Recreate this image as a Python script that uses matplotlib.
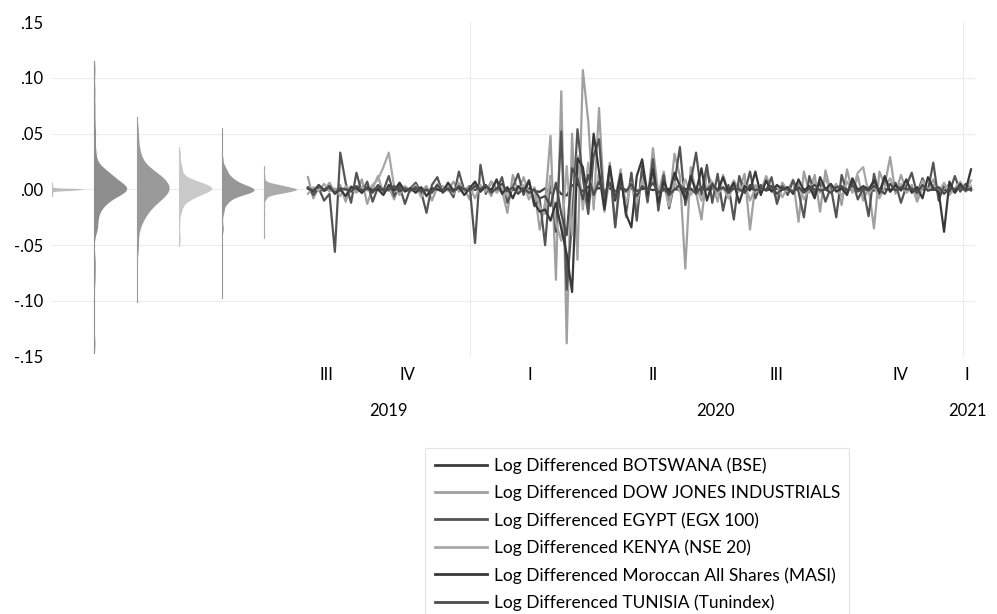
import numpy as np
import pandas as pd
import matplotlib
matplotlib.use('Agg')
import matplotlib.pyplot as plt
import matplotlib.transforms as mtransforms
from matplotlib.lines import Line2D

plt.rcParams['font.family'] = ['Lato', 'DejaVu Sans']

dates = pd.date_range('2019-09-03', periods=124, freq='4D')

botswana = [
    0.0010, -0.0005, 0.0003, -0.0012, 0.0006, 0.0002, -0.0008, 0.0004, -0.0003, 0.0009,
    -0.0006, 0.0002, 0.0011, -0.0004, 0.0001, -0.0009, 0.0005, 0.0003, -0.0007, 0.0008,
    -0.0002, 0.0006, -0.0011, 0.0004, 0.0002, -0.0005, 0.0009, -0.0003, 0.0001, -0.0006,
    0.0007, -0.0004, 0.0012, -0.0008, 0.0003, 0.0005, -0.0010, 0.0002, -0.0004, 0.0006,
    -0.0003, 0.0008, -0.0015, -0.0022, 0.0010, -0.0031, 0.0018, -0.0042, -0.0055, 0.0036,
    0.0048, -0.0020, 0.0025, -0.0012, 0.0014, -0.0009, 0.0011, -0.0016, 0.0007, -0.0005,
    0.0009, -0.0013, 0.0004, 0.0008, -0.0006, 0.0003, -0.0010, 0.0005, 0.0002, -0.0004,
    0.0007, -0.0008, 0.0003, 0.0001, -0.0005, 0.0009, -0.0002, 0.0004, -0.0007, 0.0006,
    -0.0003, 0.0002, 0.0010, -0.0006, 0.0004, -0.0009, 0.0003, 0.0005, -0.0002, 0.0008,
    -0.0011, 0.0004, -0.0003, 0.0006, 0.0002, -0.0007, 0.0009, -0.0004, 0.0001, 0.0005,
    -0.0008, 0.0003, 0.0006, -0.0002, 0.0004, -0.0010, 0.0007, 0.0002, -0.0005, 0.0003,
    0.0008, -0.0004, 0.0001, -0.0006, 0.0005, 0.0009, -0.0003, 0.0002, -0.0008, 0.0004,
    -0.0002, 0.0006, -0.0004, 0.0003]

dow = [
    0.011, -0.008, 0.002, -0.001, 0.006, -0.003, 0.004, -0.011, 0.003, -0.002,
    0.009, -0.013, 0.001, 0.012, -0.004, 0.002, -0.009, 0.005, 0.000, -0.002,
    0.004, -0.001, 0.003, -0.010, 0.002, 0.003, -0.001, 0.007, -0.002, 0.001,
    -0.009, 0.005, -0.002, 0.003, -0.006, 0.008, -0.001, -0.021, 0.013, -0.002,
    0.011, -0.004, 0.001, -0.036, -0.012, 0.048, -0.081, 0.088, -0.138, 0.050,
    -0.063, 0.107, 0.061, -0.018, 0.073, -0.016, 0.024, -0.033, 0.018, -0.025,
    0.014, -0.021, 0.019, -0.012, 0.037, -0.004, 0.016, -0.014, 0.032, 0.012,
    -0.071, 0.020, -0.003, -0.027, 0.015, 0.005, -0.011, 0.013, -0.002, 0.008,
    -0.001, 0.014, -0.036, 0.004, -0.002, 0.012, 0.001, -0.009, 0.006, -0.001,
    0.009, -0.029, 0.016, -0.003, 0.013, -0.020, 0.017, -0.002, 0.005, -0.014,
    0.018, -0.003, 0.012, -0.010, 0.002, -0.035, 0.016, 0.004, 0.029, -0.004,
    0.013, -0.001, 0.004, -0.011, 0.002, 0.000, 0.009, -0.006, 0.001, 0.005,
    -0.003, 0.002, -0.001, 0.008]

egypt = [
    0.002, -0.005, 0.001, -0.010, -0.004, -0.056, 0.033, 0.006, -0.012, 0.015,
    -0.003, 0.007, -0.011, 0.002, -0.001, 0.012, -0.006, 0.003, -0.013, 0.001,
    0.006, -0.002, -0.021, 0.004, 0.011, -0.003, 0.001, -0.007, 0.016, -0.001,
    0.003, -0.048, 0.022, -0.004, 0.007, -0.001, 0.011, -0.012, 0.002, 0.014,
    -0.005, 0.008, -0.015, -0.009, -0.050, 0.012, -0.038, 0.052, -0.090, -0.028,
    0.054, 0.010, -0.022, 0.030, 0.045, -0.016, 0.019, -0.034, 0.012, -0.020,
    0.015, -0.028, 0.021, -0.011, 0.027, -0.019, 0.013, -0.017, 0.006, 0.038,
    -0.014, 0.007, 0.033, -0.005, 0.022, -0.012, 0.014, -0.019, 0.004, -0.027,
    0.012, -0.003, 0.016, -0.008, 0.004, -0.001, 0.011, -0.013, 0.003, -0.005,
    0.008, -0.002, -0.025, 0.012, -0.004, 0.006, -0.011, 0.002, -0.025, 0.013,
    -0.003, 0.008, -0.009, 0.001, -0.024, 0.014, -0.005, 0.011, -0.002, 0.006,
    -0.012, 0.003, 0.015, -0.004, 0.010, -0.001, 0.024, -0.010, 0.004, -0.003,
    0.012, -0.002, 0.005, -0.001]

kenya = [
    -0.004, 0.002, -0.001, 0.005, -0.002, 0.001, -0.006, 0.003, 0.000, -0.003,
    0.002, -0.001, 0.004, 0.009, 0.020, 0.033, 0.002, -0.005, 0.003, -0.001,
    0.004, -0.007, 0.001, -0.002, 0.005, -0.001, 0.003, -0.004, 0.006, -0.001,
    0.002, -0.008, 0.004, -0.002, 0.007, -0.003, 0.001, -0.006, 0.002, 0.000,
    0.004, -0.009, 0.002, -0.016, -0.022, 0.012, -0.030, -0.046, 0.021, -0.041,
    0.030, -0.018, 0.024, -0.012, 0.015, -0.020, 0.011, -0.009, 0.017, -0.014,
    0.006, -0.012, 0.008, -0.003, 0.011, -0.008, 0.004, -0.015, 0.007, -0.002,
    0.009, -0.005, 0.003, -0.010, 0.002, 0.007, -0.004, 0.002, -0.008, 0.004,
    -0.002, 0.006, -0.010, 0.001, -0.003, 0.008, -0.001, 0.003, -0.007, 0.002,
    -0.001, 0.005, -0.009, 0.001, 0.006, -0.003, 0.010, -0.002, 0.001, -0.006,
    0.007, -0.001, 0.015, 0.020, -0.004, 0.003, -0.008, 0.002, 0.010, -0.002,
    0.005, -0.003, 0.001, -0.007, 0.008, 0.000, 0.004, -0.002, 0.006, -0.005,
    0.001, 0.007, -0.002, 0.003]

masi = [
    0.001, -0.002, 0.004, -0.001, 0.003, -0.004, 0.000, -0.006, 0.002, 0.001,
    -0.003, 0.002, -0.001, 0.000, -0.005, 0.004, -0.001, 0.006, -0.002, 0.001,
    -0.003, 0.002, -0.006, 0.001, 0.000, -0.002, 0.006, -0.001, 0.002, -0.005,
    0.001, 0.007, -0.002, 0.003, -0.001, 0.009, -0.004, 0.002, -0.008, 0.003,
    -0.002, 0.008, -0.012, -0.020, -0.018, -0.028, -0.012, -0.035, -0.058, -0.092,
    0.028, 0.020, -0.012, 0.050, 0.016, -0.018, 0.021, -0.010, 0.014, -0.022,
    -0.034, 0.012, 0.027, -0.005, 0.018, -0.012, 0.007, -0.004, 0.015, 0.003,
    -0.009, 0.012, -0.002, 0.019, -0.010, 0.005, -0.001, 0.011, -0.003, 0.006,
    -0.012, 0.003, -0.001, 0.016, -0.005, 0.008, -0.002, 0.004, 0.000, 0.002,
    -0.004, 0.009, -0.001, 0.003, -0.008, 0.011, 0.000, 0.005, -0.002, 0.001,
    -0.005, 0.010, -0.001, 0.003, 0.000, 0.008, -0.003, 0.012, -0.002, 0.004,
    -0.001, 0.009, -0.003, 0.002, -0.008, 0.011, 0.001, -0.002, -0.038, 0.007,
    -0.003, 0.005, -0.001, 0.018]

tunisia = [
    0.001, -0.001, 0.003, 0.000, 0.002, -0.003, 0.001, 0.000, -0.002, 0.003,
    -0.001, 0.001, -0.003, 0.004, -0.001, 0.000, 0.003, -0.002, 0.001, -0.001,
    0.002, -0.002, 0.000, -0.003, 0.004, -0.001, 0.001, -0.002, 0.003, 0.000,
    -0.001, 0.003, 0.000, 0.004, -0.003, 0.001, 0.005, -0.002, 0.002, -0.004,
    0.001, -0.003, 0.000, -0.008, -0.006, -0.015, 0.006, -0.022, -0.041, 0.019,
    0.010, -0.009, 0.013, -0.005, 0.007, -0.004, 0.006, -0.008, 0.004, -0.002,
    0.005, -0.006, 0.003, -0.001, 0.006, -0.003, 0.001, -0.005, 0.000, 0.004,
    -0.002, 0.001, -0.004, 0.002, 0.000, 0.004, -0.001, 0.002, -0.003, 0.001,
    0.000, -0.003, 0.004, -0.001, 0.001, 0.000, 0.003, -0.004, 0.001, 0.000,
    -0.002, 0.002, -0.003, 0.001, 0.004, -0.001, 0.000, -0.003, 0.002, 0.003,
    -0.001, 0.004, -0.002, 0.001, -0.001, 0.003, 0.000, -0.004, 0.005, -0.001,
    0.002, 0.000, 0.001, -0.003, 0.004, -0.001, 0.000, 0.002, -0.004, 0.001,
    0.000, 0.003, -0.001, 0.001]

labels = [
    'Log Differenced BOTSWANA (BSE)',
    'Log Differenced DOW JONES INDUSTRIALS',
    'Log Differenced EGYPT (EGX 100)',
    'Log Differenced KENYA (NSE 20)',
    'Log Differenced Moroccan All Shares (MASI)',
    'Log Differenced TUNISIA (Tunindex)',
]
series = [botswana, dow, egypt, kenya, masi, tunisia]
line_colors = ['#3c3c3c', '#a0a0a0', '#545454', '#a8a8a8', '#383838', '#4c4c4c']
dens_colors = ['#bdbdbd', '#8e8e8e', '#9a9a9a', '#c9c9c9', '#979797', '#ababab']

y_ticks = [-0.15, -0.10, -0.05, 0.00, 0.05, 0.10, 0.15]


def bandwidth(v):
    iqr = np.subtract(*np.percentile(v, [75, 25]))
    return 1.4 * 0.9 * min(v.std(ddof=1), iqr / 1.34) * len(v) ** (-0.2)


def kde(v, grid, h):
    z = (grid[:, None] - v[None, :]) / h
    return np.exp(-0.5 * z ** 2).sum(axis=1) / (len(v) * h * np.sqrt(2 * np.pi))


origin = pd.Timestamp('2020-01-01')
x = np.array((dates - origin).days, dtype=float)
x_left, x_right = -310.0, 375.0

fig = plt.figure(figsize=(9.97, 6.14), dpi=100)
ax = fig.add_axes([0.052, 0.419, 0.926, 0.545])
ax.set_xlim(x_left, x_right)
ax.set_ylim(-0.15, 0.15)
for s in ax.spines.values():
    s.set_visible(False)

# grid
for t in y_ticks[1:-1]:
    ax.axhline(t, color='#ececec', lw=0.8, zorder=0)
for yr in [2020, 2021]:
    ax.axvline((pd.Timestamp(f'{yr}-01-01') - origin).days, color='#ececec', lw=0.8, zorder=0)

# kernel densities on the left
slot = 31.5
dens_w = 24.0
for i, (vals, col) in enumerate(zip(series, dens_colors)):
    v = np.asarray(vals)
    h = bandwidth(v)
    grid = np.linspace(v.min() - 1.5 * h, v.max() + 1.5 * h, 700)
    d = kde(v, grid, h)
    base = x_left + i * slot
    ax.fill_betweenx(grid, base, base + d / d.max() * dens_w, color=col, lw=0, zorder=2)
    ax.plot([base, base], [grid[0], grid[-1]], color=col, lw=0.8, zorder=2)

# time series
for vals, col in zip(series, line_colors):
    ax.plot(x, vals, color=col, lw=1.6, zorder=3)

# y axis
ax.set_yticks(y_ticks)
ax.set_yticklabels([f'{t:.2f}'.replace('0.', '.') for t in y_ticks], fontsize=12)
ax.tick_params(axis='y', length=0, pad=6)
ax.set_xticks([])

# quarter and year labels
trans = mtransforms.blended_transform_factory(ax.transData, ax.transAxes)
d0, d1 = dates[0], dates[-1]
roman = {1: 'I', 2: 'II', 3: 'III', 4: 'IV'}
for q in pd.period_range(d0, d1, freq='Q'):
    a = max(q.start_time, d0)
    b = min(q.end_time.normalize(), d1)
    mid = (a - origin).days + ((b - a).days) / 2
    ax.text(mid, -0.055, roman[q.quarter], transform=trans, ha='center', va='center', fontsize=12)
for yr in range(d0.year, d1.year + 1):
    a = max(pd.Timestamp(f'{yr}-01-01'), d0)
    b = min(pd.Timestamp(f'{yr}-12-31'), d1)
    mid = (a - origin).days + ((b - a).days) / 2
    ax.text(mid, -0.163, str(yr), transform=trans, ha='center', va='center', fontsize=12)

handles = [Line2D([0], [0], color=c, lw=2) for c in line_colors]
leg = fig.legend(handles, labels, loc='upper left', bbox_to_anchor=(425 / 997, 1 - 448 / 614),
                 fontsize=12.5, frameon=True, fancybox=False, edgecolor='#dddddd',
                 handlelength=3.0, handletextpad=0.4, labelspacing=0.63, borderpad=0.55,
                 borderaxespad=0)
leg.get_frame().set_linewidth(0.8)

fig.savefig('out.png', dpi=100, facecolor='white')
